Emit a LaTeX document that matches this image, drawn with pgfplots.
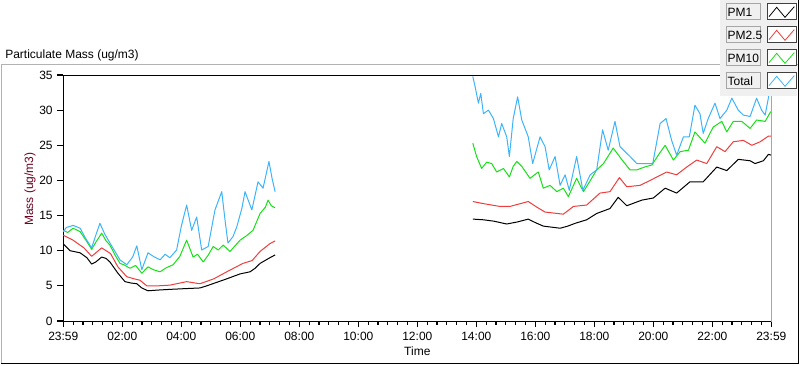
\documentclass[border=0pt]{standalone}
\usepackage{pgfplots}
\pgfplotsset{compat=1.18}
\usepackage{fontspec}
\setmainfont{Liberation Sans}
\definecolor{cPMa}{RGB}{0,0,0}
\definecolor{cPMb}{RGB}{240,60,60}
\definecolor{cPMc}{RGB}{20,225,20}
\definecolor{cTot}{RGB}{60,180,250}
\definecolor{ylab}{RGB}{110,0,30}
\definecolor{lgbg}{RGB}{240,240,240}
\begin{document}
\begin{tikzpicture}[font=\fontsize{9}{11}\selectfont]
\path[use as bounding box] (0pt,0pt) rectangle (600pt,273.75pt);
% outer frame
\draw[gray!60,line width=0.75pt] (0.75pt,1.5pt) -- (0.75pt,225pt) -- (598.5pt,225pt);
\draw[black,line width=0.75pt] (0.75pt,1.5pt) -- (598.5pt,1.5pt) -- (598.5pt,273.75pt);
\node[anchor=west,inner sep=0pt] at (3.75pt,232.5pt) {Particulate Mass (ug/m3)};
\node[rotate=90,text=ylab,inner sep=0pt] at (22.5pt,132pt) {Mass (ug/m3)};
\begin{axis}[
  at={(47.5pt,33pt)}, anchor=south west,
  scale only axis, width=531pt, height=184.5pt,
  xmin=0, xmax=24, ymin=0, ymax=35,
  axis line style={black,line width=0.75pt},
  xtick pos=bottom, ytick pos=left,
  xtick={0,2,...,24},
  xticklabels={23:59,02:00,04:00,06:00,08:00,10:00,12:00,14:00,16:00,18:00,20:00,22:00,23:59},
  ytick={0,5,...,35},
  tick align=outside,
  major tick length=4.5pt,
  major tick style={black,line width=0.75pt},
  /pgf/number format/assume math mode=true,
  tick label style={font=\fontsize{9}{11}\selectfont},
  xticklabel style={yshift=-0.25pt},
  xlabel={Time}, xlabel style={at={(0.5,0)},anchor=north,yshift=-19.5pt,inner sep=0pt},
  every axis plot/.append style={line width=0.75pt, line join=round},
  clip=false,
]
% PM1
\addplot[cPMa] coordinates {(0,10.95)(0.23,10.0)(0.57,9.7)(0.8,9.0)(0.96,8.1)(1.1,8.4)(1.30,9.1)(1.45,8.9)(1.58,8.4)(1.85,6.8)(2.09,5.6)(2.3,5.4)(2.49,5.3)(2.66,4.7)(2.87,4.3)(3.2,4.4)(3.61,4.5)(4.1,4.6)(4.63,4.7)(4.86,5.0)(5.2,5.5)(5.54,6.0)(5.99,6.7)(6.33,7.0)(6.5,7.5)(6.67,8.2)(7.0,9.0)(7.18,9.4)};
\addplot[cPMa] coordinates {(13.88,14.5)(14.24,14.4)(14.6,14.2)(15.03,13.8)(15.4,14.1)(15.76,14.5)(16.0,14.0)(16.27,13.5)(16.84,13.2)(17.1,13.5)(17.35,13.9)(17.74,14.4)(18.08,15.3)(18.53,16.0)(18.81,17.6)(19.10,16.4)(19.61,17.2)(20.00,17.5)(20.40,18.9)(20.79,18.2)(21.24,19.8)(21.69,19.8)(22.15,21.9)(22.49,21.4)(22.88,23.0)(23.28,22.8)(23.45,22.4)(23.73,22.8)(23.90,23.7)(24.0,23.6)};
% PM2.5
\addplot[cPMb] coordinates {(0,12.2)(0.33,11.5)(0.7,10.4)(0.96,9.2)(1.30,10.4)(1.6,9.6)(1.85,7.7)(2.15,6.3)(2.40,6.0)(2.60,5.8)(2.83,5.0)(3.2,5.0)(3.61,5.1)(4.18,5.6)(4.63,5.3)(5.1,6.0)(5.54,7.0)(6.09,8.2)(6.4,8.6)(6.67,9.9)(7.0,11.0)(7.18,11.4)};
\addplot[cPMb] coordinates {(13.88,17.0)(14.24,16.7)(14.80,16.3)(15.14,16.3)(15.76,17.0)(16.05,16.2)(16.33,15.5)(16.95,15.2)(17.29,16.3)(17.74,16.5)(18.19,18.2)(18.53,18.4)(18.85,20.4)(19.10,19.1)(19.55,19.3)(19.89,20.0)(20.45,21.2)(20.79,20.8)(21.13,21.9)(21.47,22.9)(21.81,22.4)(22.15,24.8)(22.43,24.1)(22.71,25.5)(23.05,25.7)(23.34,25.0)(23.62,25.5)(23.90,26.3)(24.0,26.3)};
% PM10
\addplot[cPMc] coordinates {(0,12.9)(0.15,12.6)(0.33,13.2)(0.57,12.7)(0.75,11.6)(0.96,10.2)(1.1,11.2)(1.30,12.5)(1.45,11.4)(1.58,10.8)(1.75,9.4)(1.92,8.2)(2.05,8.0)(2.26,7.5)(2.45,7.9)(2.66,6.8)(2.87,7.7)(3.05,7.3)(3.28,7.0)(3.5,7.6)(3.72,8.0)(3.95,9.2)(4.18,11.5)(4.40,9.1)(4.55,9.5)(4.74,8.4)(4.9,9.3)(5.08,10.6)(5.25,10.1)(5.42,10.8)(5.65,9.9)(5.8,10.6)(5.99,11.5)(6.2,12.1)(6.43,12.9)(6.67,15.3)(6.85,16.2)(6.94,17.2)(7.05,16.4)(7.18,16.1)};
\addplot[cPMc] coordinates {(13.88,25.3)(14.01,23.4)(14.18,21.7)(14.35,22.6)(14.52,22.4)(14.69,21.2)(14.92,21.7)(15.12,20.5)(15.25,22.0)(15.37,22.7)(15.54,22.0)(15.82,20.3)(16.10,21.2)(16.27,18.9)(16.50,19.3)(16.73,18.4)(16.95,18.9)(17.12,17.7)(17.40,20.3)(17.63,18.4)(17.85,19.9)(18.08,21.5)(18.31,22.4)(18.64,24.6)(18.98,22.7)(19.21,21.5)(19.44,21.5)(19.7,21.9)(19.95,22.2)(20.2,23.8)(20.40,25.0)(20.68,22.9)(20.91,24.1)(21.19,24.3)(21.41,26.9)(21.75,25.3)(22.03,27.6)(22.32,28.4)(22.49,26.9)(22.71,28.4)(23.00,28.4)(23.28,27.4)(23.50,28.6)(23.79,28.4)(23.98,29.8)};
% Total
\addplot[cTot] coordinates {(0,12.7)(0.1,13.3)(0.33,13.6)(0.57,13.2)(0.75,11.8)(0.96,10.4)(1.1,12.2)(1.24,13.9)(1.4,12.4)(1.58,11.1)(1.75,9.9)(1.92,8.7)(2.15,8.0)(2.35,9.1)(2.49,10.7)(2.66,7.3)(2.87,9.7)(3.05,9.2)(3.28,8.7)(3.45,9.5)(3.61,9.0)(3.84,10.1)(4.0,13.5)(4.18,16.5)(4.35,12.9)(4.52,14.8)(4.69,10.1)(4.91,10.6)(5.14,15.8)(5.37,18.4)(5.48,14.4)(5.58,11.1)(5.75,12.0)(5.88,13.4)(6.05,16.0)(6.16,18.4)(6.39,15.8)(6.60,19.8)(6.77,18.9)(6.97,22.7)(7.08,20.2)(7.18,18.4)};
\addplot[cTot] coordinates {(13.88,34.8)(13.96,33.3)(14.07,31.0)(14.15,32.4)(14.24,29.5)(14.41,30.0)(14.58,28.8)(14.75,26.2)(14.86,28.1)(15.03,26.2)(15.12,23.4)(15.25,28.8)(15.40,31.9)(15.54,28.6)(15.76,26.2)(15.91,22.4)(16.16,26.2)(16.33,24.8)(16.47,21.5)(16.67,23.4)(16.84,19.3)(17.01,20.8)(17.15,18.6)(17.40,23.4)(17.61,18.6)(17.86,20.8)(18.08,21.5)(18.28,27.2)(18.47,24.3)(18.70,28.4)(18.87,24.8)(19.21,23.4)(19.44,22.4)(19.66,22.4)(19.98,22.4)(20.23,28.1)(20.43,28.8)(20.62,25.7)(20.79,23.6)(21.02,26.2)(21.22,26.2)(21.41,30.7)(21.58,29.5)(21.69,26.7)(21.86,28.8)(22.09,31.0)(22.26,28.8)(22.49,30.0)(22.66,31.7)(22.88,30.0)(23.05,29.3)(23.28,29.1)(23.50,31.7)(23.67,30.0)(23.79,29.3)(23.93,32.4)(24.0,33.0)};
\end{axis}
% tick marks (axis decoration)
\foreach \i in {0,...,72}{
  \pgfmathsetmacro{\tl}{ifthenelse(mod(\i,6)==0,4.5,2.8)}
  \draw[black,line width=0.8pt] (47.5pt+\i*7.375pt,33pt) -- (47.5pt+\i*7.375pt,33pt-\tl pt);
}
\foreach \j in {0,...,7}{
  \draw[black,line width=0.8pt] (47.5pt,33pt+\j*26.357pt) -- (43pt,33pt+\j*26.357pt);
}
\draw[gray!70,line width=1pt] (578.5pt,32.6pt) -- (578.5pt,217.9pt);
% legend
\fill[lgbg] (540pt,201.75pt) rectangle (598.1pt,273.75pt);
\foreach \nm/\col/\yt in {PM1/cPMa/270.75, PM2.5/cPMb/253.5, PM10/cPMc/236.25, Total/cTot/219}{
  \draw[gray!70,fill=lgbg,line width=0.75pt] (544.5pt,\yt pt) rectangle (570pt,\yt pt-12pt);
  \node[anchor=west,inner sep=0pt] at (545.5pt,\yt pt-6pt) {\nm};
  \draw[black!75,fill=white,line width=0.75pt] (575.25pt,\yt pt) rectangle (597pt,\yt pt-12pt);
  \draw[\col,line width=0.6pt] (576.75pt,\yt pt-9.5pt) -- (582.5pt,\yt pt-2.5pt) -- (588.75pt,\yt pt-10pt) -- (595.7pt,\yt pt-2pt);
}
\draw[black,line width=0.75pt] (598.5pt,1.5pt) -- (598.5pt,273.75pt);
\end{tikzpicture}
\end{document}
